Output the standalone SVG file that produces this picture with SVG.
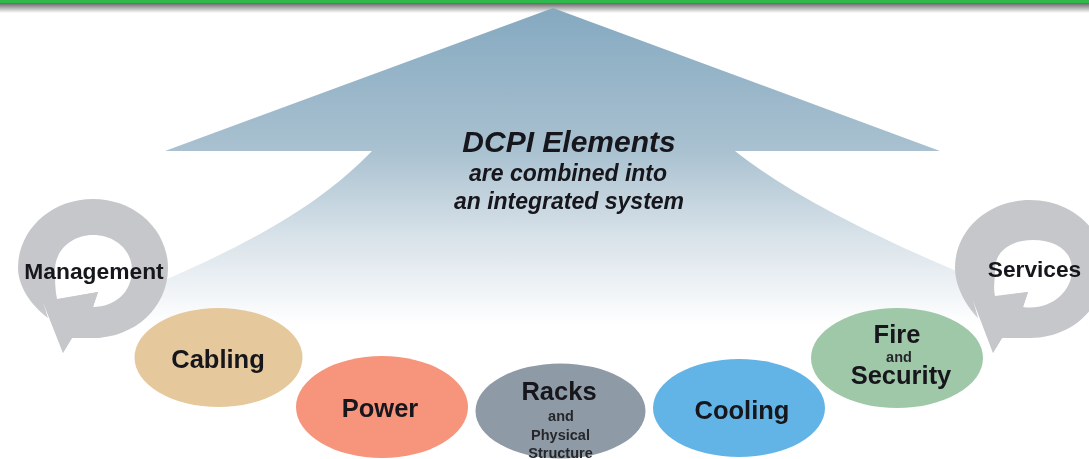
<svg xmlns="http://www.w3.org/2000/svg" width="1089" height="459" viewBox="0 0 1089 459">
<style>
text{font-family:"Liberation Sans",Arial,sans-serif;font-weight:bold;fill:#15161a;text-anchor:middle}
.big{font-size:25.5px}
.small{font-size:14.5px;fill:#26282c}
.sub{font-size:23px;font-style:italic}
.head{fill:#c6c7ca}
</style>
<defs>
<linearGradient id="arrowFill" gradientUnits="userSpaceOnUse" x1="0" y1="8" x2="0" y2="325">
<stop offset="0" stop-color="#85a9c0"/>
<stop offset="0.45" stop-color="#a9c1d0"/>
<stop offset="0.72" stop-color="#d8e2e9"/>
<stop offset="1" stop-color="#ffffff"/>
</linearGradient>
<linearGradient id="shadow" x1="0" y1="0" x2="0" y2="1">
<stop offset="0" stop-color="#666666"/>
<stop offset="1" stop-color="#ffffff"/>
</linearGradient>
<linearGradient id="ringFadeL" gradientUnits="userSpaceOnUse" x1="24" y1="322" x2="46" y2="297">
<stop offset="0" stop-color="#eceDf0"/>
<stop offset="0.65" stop-color="#c6c7ca"/>
<stop offset="1" stop-color="#c6c7ca"/>
</linearGradient>
<linearGradient id="ringFadeR" gradientUnits="userSpaceOnUse" x1="955" y1="322" x2="977" y2="297">
<stop offset="0" stop-color="#eceDf0"/>
<stop offset="0.65" stop-color="#c6c7ca"/>
<stop offset="1" stop-color="#c6c7ca"/>
</linearGradient>
<filter id="soft" x="-5%" y="-5%" width="110%" height="110%"><feGaussianBlur stdDeviation="0.7"/></filter>
</defs>
<rect width="1089" height="459" fill="#ffffff"/>
<g id="top-rule">
<rect y="3" width="1089" height="10" fill="url(#shadow)"/>
<rect width="1089" height="3" fill="#2fb84c"/>
</g>
<g id="big-arrow" filter="url(#soft)">
<path d="M553 8 L940 151 L735 151 C790 195 880 240 990 285 L990 330 L130 330 L130 295 C250 245 320 205 372 151 L165 151 Z" fill="url(#arrowFill)"/>
<text x="569" y="152" style="font-size:30px;font-style:italic">DCPI Elements</text>
<text class="sub" x="568" y="181">are combined into</text>
<text class="sub" x="569" y="209">an integrated system</text>
</g>
<g id="management" filter="url(#soft)">
<path fill="url(#ringFadeL)" fill-rule="evenodd" d="M43 302 L63 353 L72 338 C78 338 86 338 93 338 C135 338 168 307 168 268 C168 230 135 199 93 199 C51 199 18 230 18 268 C18 285 30 305 48 318 Z M57 299 L98 292 L93 307 C115 307 132 292 132 270 C132 250 115 235 93 235 C72 235 55 250 55 270 C55 280 55 290 57 299 Z"/>
<path class="head" d="M43 302 L98 292 L93 307 L100 338 L72 338 L63 353 Z"/>
<text x="94" y="279" style="font-size:22.8px">Management</text>
</g>
<g id="services" filter="url(#soft)">
<path fill="url(#ringFadeR)" fill-rule="evenodd" d="M973 300 L993 353 L1002 338 C1010 338 1020 338 1030 338 C1072 338 1105 307 1105 268 C1105 230 1072 200 1030 200 C988 200 955 230 955 268 C955 285 965 305 978 318 Z M995 296 L1028 292 L1023 307 C1050 311 1072 292 1072 270 C1072 250 1055 240 1033 240 C1012 240 995 250 995 270 C995 280 993 288 995 296 Z"/>
<path class="head" d="M973 300 L1028 292 L1023 307 L1030 338 L1002 338 L993 353 Z"/>
<text x="1034.500" y="277" style="font-size:22.700px">Services</text>
</g>
<g id="cabling" filter="url(#soft)">
<ellipse cx="218.500" cy="357.500" rx="84" ry="49.500" fill="#e5c99c"/>
<text class="big" x="218" y="368">Cabling</text>
</g>
<g id="power" filter="url(#soft)">
<ellipse cx="382" cy="407" rx="86" ry="51" fill="#f6957c"/>
<text class="big" x="380" y="417">Power</text>
</g>
<g id="racks" filter="url(#soft)">
<ellipse cx="560.500" cy="411" rx="85" ry="47.500" fill="#8e9aa5"/>
<text class="big" x="559" y="400">Racks</text>
<text class="small" x="561" y="421">and</text>
<text class="small" x="560.500" y="440">Physical</text>
<text class="small" x="560.500" y="458">Structure</text>
</g>
<g id="cooling" filter="url(#soft)">
<ellipse cx="739" cy="408" rx="86" ry="49" fill="#63b4e6"/>
<text class="big" x="742" y="419">Cooling</text>
</g>
<g id="fire-security" filter="url(#soft)">
<ellipse cx="897" cy="358" rx="86" ry="50" fill="#9fc8a8"/>
<text class="big" x="897" y="343">Fire</text>
<text class="small" x="899" y="362">and</text>
<text class="big" x="901" y="384">Security</text>
</g>
</svg>
